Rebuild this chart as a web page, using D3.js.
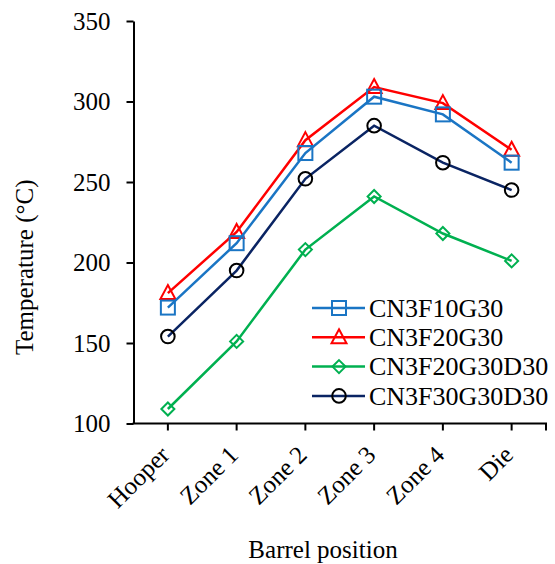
<!DOCTYPE html>
<html>
<head>
<meta charset="utf-8">
<script src="https://cdn.jsdelivr.net/npm/d3@7"></script>
<style>
  html, body { margin: 0; padding: 0; background: #fff; }
  svg text { font-family: "Liberation Serif", "Times New Roman", serif !important; fill: #000; }
</style>
</head>
<body>
<svg id="chart" width="555" height="564"></svg>
<script>
// Barrel positions along the extruder
const positions = ["Hooper", "Zone 1", "Zone 2", "Zone 3", "Zone 4", "Die"];

// Melt temperature (°C) at each position, per formulation
const cn3f10g30     = [172, 212, 268, 303, 292, 262];
const cn3f20g30     = [181, 219, 276, 309, 299, 270];
const cn3f20g30d30  = [109, 151, 208, 241, 218, 201];
const cn3f30g30d30  = [154, 195, 252, 285, 262, 245];

const yTicks = [100, 150, 200, 250, 300, 350];

const series = [
  { name: "CN3F10G30",    values: cn3f10g30,    line: "#1a75c4", stroke: "#1a75c4", marker: "square" },
  { name: "CN3F20G30",    values: cn3f20g30,    line: "#ff0000", stroke: "#ff0000", marker: "triangle" },
  { name: "CN3F20G30D30", values: cn3f20g30d30, line: "#00b050", stroke: "#00b050", marker: "diamond" },
  { name: "CN3F30G30D30", values: cn3f30g30d30, line: "#0a2463", stroke: "#000000", marker: "circle" }
];

const serif = "'Liberation Serif', 'Times New Roman', serif";
const svg = d3.select("#chart");
const plotLeft = 133.5, plotRight = 546, plotTop = 21, plotBottom = 423.5;

const x = d3.scaleBand().domain(positions).range([plotLeft, plotRight]);
const xc = d => x(d) + x.bandwidth() / 2;
const y = d3.scaleLinear().domain([100, 350]).range([plotBottom, plotTop]);

// Y axis
const yAxis = svg.append("g")
  .attr("transform", `translate(${plotLeft},0)`)
  .call(d3.axisLeft(y).tickValues(yTicks).tickSize(7).tickPadding(16).tickSizeOuter(0));
yAxis.attr("font-family", serif);
yAxis.select(".domain").attr("stroke", "#000").attr("stroke-width", 2);
yAxis.selectAll(".tick line").attr("stroke", "#000").attr("stroke-width", 2);
yAxis.selectAll(".tick text")
  .style("font-family", serif)
  .attr("font-size", 25)
  .attr("dy", "0.33em");

// X axis: ticks on category centres plus closing tick at the right end
const xAxisG = svg.append("g").attr("transform", `translate(0,${plotBottom})`);
xAxisG.append("line")
  .attr("x1", plotLeft - 1).attr("x2", plotRight + 1)
  .attr("stroke", "#000").attr("stroke-width", 2);
xAxisG.selectAll("line.tk")
  .data(positions)
  .join("line")
  .attr("class", "tk")
  .attr("x1", d => xc(d)).attr("x2", d => xc(d))
  .attr("y1", 0).attr("y2", 7)
  .attr("stroke", "#000").attr("stroke-width", 2);
xAxisG.append("line")
  .attr("x1", plotRight).attr("x2", plotRight)
  .attr("y1", 0).attr("y2", 7)
  .attr("stroke", "#000").attr("stroke-width", 2);
xAxisG.selectAll("text")
  .data(positions)
  .join("text")
  .attr("text-anchor", "end")
  .style("font-family", serif)
  .attr("font-size", 25)
  .attr("transform", d => `translate(${xc(d) + 3},${33}) rotate(-45)`)
  .text(d => d);

// Axis titles
svg.append("text")
  .attr("text-anchor", "middle")
  .style("font-family", serif)
  .attr("font-size", 25)
  .attr("transform", `translate(33,${(plotTop + plotBottom) / 2 + 45}) rotate(-90)`)
  .text("Temperature (°C)");
svg.append("text")
  .attr("text-anchor", "middle")
  .style("font-family", serif)
  .attr("font-size", 25)
  .attr("x", 323)
  .attr("y", 558)
  .text("Barrel position");

// Hollow marker shapes (the series line shows through them)
function drawMarker(g, type, color) {
  if (type === "square") {
    g.append("rect").attr("x", -7).attr("y", -7).attr("width", 14).attr("height", 14)
      .attr("fill", "none").attr("stroke", color).attr("stroke-width", 2);
  } else if (type === "triangle") {
    g.append("path").attr("d", "M0,-8 L7.5,6 L-7.5,6 Z")
      .attr("fill", "none").attr("stroke", color).attr("stroke-width", 2);
  } else if (type === "diamond") {
    g.append("path").attr("d", "M0,-6.5 L6.5,0 L0,6.5 L-6.5,0 Z")
      .attr("fill", "none").attr("stroke", color).attr("stroke-width", 2);
  } else {
    g.append("circle").attr("r", 6.8)
      .attr("fill", "none").attr("stroke", color).attr("stroke-width", 2);
  }
}

const line = d3.line().x((d, i) => xc(positions[i])).y(d => y(d));

// Draw in reverse so the top series sit above the others
series.slice().reverse().forEach(s => {
  const g = svg.append("g");
  g.append("path")
    .attr("d", line(s.values))
    .attr("fill", "none")
    .attr("stroke", s.line)
    .attr("stroke-width", 2.5);
  s.values.forEach((v, i) => {
    const m = g.append("g").attr("transform", `translate(${xc(positions[i])},${y(v)})`);
    drawMarker(m, s.marker, s.stroke);
  });
});

// Legend
const legend = svg.append("g");
series.forEach((s, i) => {
  const ly = 308 + i * 29.3;
  const row = legend.append("g").attr("transform", `translate(0,${ly})`);
  row.append("line").attr("x1", 312).attr("x2", 365)
    .attr("stroke", s.line).attr("stroke-width", 2.5);
  const m = row.append("g").attr("transform", "translate(339,0)");
  drawMarker(m, s.marker, s.stroke);
  row.append("text")
    .attr("x", 369).attr("y", 0).attr("dy", "0.34em")
    .style("font-family", serif)
    .attr("font-size", 26)
    .text(s.name);
});
</script>
</body>
</html>
